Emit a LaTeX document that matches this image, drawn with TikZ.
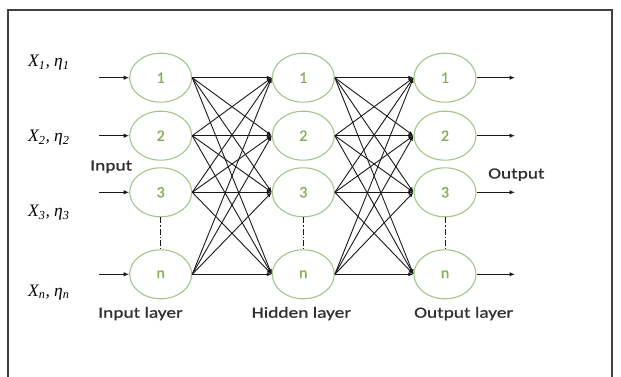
\documentclass[tikz,border=0pt]{standalone}
\usepackage{fontspec}
\setmainfont{Liberation Serif}
\newfontfamily\layerfont[FakeStretch=1.25,FakeBold=0.8]{Carlito}
\newfontfamily\digitfont[FakeBold=0.8]{Carlito}
\usetikzlibrary{arrows.meta,shapes.geometric}

\definecolor{nodegreen}{HTML}{A6C48A}
\definecolor{digitgreen}{HTML}{86AD58}
\definecolor{labelgrey}{HTML}{303030}
\definecolor{wire}{HTML}{181818}

\newcommand{\varlabel}[2]{X\textsubscript{#1}, η\textsubscript{#2}}

\tikzset{
  neuron/.style={ellipse, draw=nodegreen, line width=1.1pt, minimum width=62pt,
    minimum height=49pt, inner sep=0pt, text=digitgreen,
    font=\digitfont\fontsize{16}{16}\selectfont},
  conn/.style={draw=wire, line width=0.9pt, -{Latex[length=5pt,width=4pt]}},
  iolink/.style={draw=wire, line width=1.1pt, -{Latex[length=5.5pt,width=4.5pt]}},
  gap/.style={draw=wire, line width=1pt, dash pattern=on 6pt off 2pt on 1.5pt off 2pt},
  varname/.style={anchor=base west, inner sep=0pt, text=black,
    font=\itshape\fontsize{17.5}{17.5}\selectfont},
  layername/.style={anchor=base west, inner sep=0pt, text=labelgrey,
    font=\layerfont\fontsize{15.5}{15.5}\selectfont},
  frame/.style={draw=black!75, line width=1.2pt}
}

\begin{document}
\begin{tikzpicture}[x=1pt,y=-1pt]
  \useasboundingbox (0,0) rectangle (621,377);

  % outer frame (open at the bottom edge)
  \draw[frame] (8,380) -- (8,10) -- (612,10) -- (612,380);

  % three layers of neurons
  \foreach \lay/\x in {i/160.7, h/303.3, o/445} {
    \node[neuron] (\lay1) at (\x,77.7) {1};
    \node[neuron] (\lay2) at (\x,135.7) {2};
    \node[neuron] (\lay3) at (\x,192.3) {3};
    \node[neuron] (\lay4) at (\x,274.3) {n};
    \draw[gap] (\lay3.south) -- (\lay4.north);
  }

  % fully connected weights
  \foreach \a in {1,2,3,4} {
    \foreach \b in {1,2,3,4} {
      \draw[conn] (i\a.east) -- (h\b.west);
      \draw[conn] (h\a.east) -- (o\b.west);
    }
  }

  % inputs and outputs
  \foreach \k/\y in {1/77.7, 2/135.7, 3/192.3, 4/274.3} {
    \coordinate (in\k) at (99,\y);
    \coordinate (out\k) at (515,\y);
    \draw[iolink] (in\k) -- (i\k.west);
    \draw[iolink] (o\k.east) -- (out\k);
  }

  % input variables
  \node[varname] (v1) at (28,67) {\varlabel{1}{1}};
  \node[varname] (v2) at (28,142) {\varlabel{2}{2}};
  \node[varname] (v3) at (28,216.5) {\varlabel{3}{3}};
  \node[varname] (v4) at (28,296) {\varlabel{n}{n}};

  % captions
  \node[layername] (tin) at (90,170.5) {Input};
  \node[layername] (tout) at (488,178.5) {Output};
  \node[layername] (lin) at (98,317.7) {Input layer};
  \node[layername] (lhid) at (251.5,317.7) {Hidden layer};
  \node[layername] (lout) at (414,317.7) {Output layer};
\end{tikzpicture}
\end{document}
